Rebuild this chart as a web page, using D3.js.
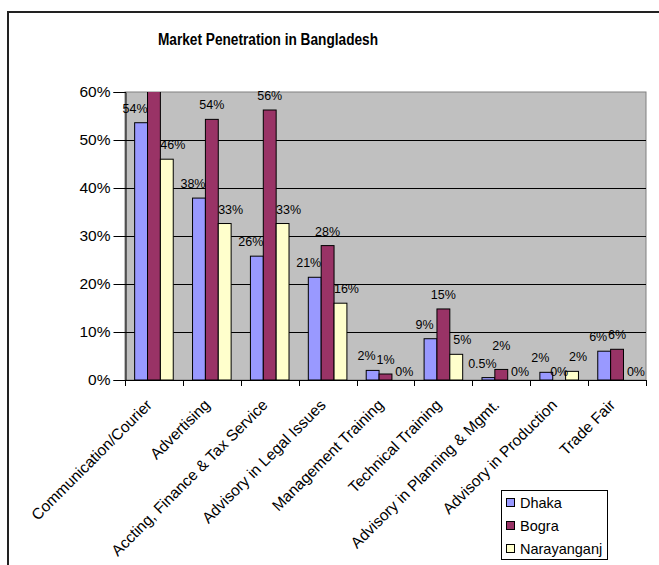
<!DOCTYPE html>
<html>
<head>
<meta charset="utf-8">
<script src="https://cdn.jsdelivr.net/npm/d3@7"></script>
<style>
  html, body { margin: 0; padding: 0; background: #fff; }
  svg { display: block; font-family: "Liberation Sans", Arial, sans-serif; }
</style>
</head>
<body>
<svg id="chart" width="659" height="565"></svg>
<script>
// Service categories along the x axis
const categories = [
  "Communication/Courier",
  "Advertising",
  "Accting, Finance & Tax Service",
  "Advisory in Legal Issues",
  "Management Training",
  "Technical Training",
  "Advisory in Planning & Mgmt.",
  "Advisory in Production",
  "Trade Fair"
];

// Market penetration share per district
const seriesNames = ["Dhaka", "Bogra", "Narayanganj"];
const dhaka       = [0.536, 0.379, 0.258, 0.214, 0.020, 0.086, 0.005, 0.016, 0.060];
const bogra       = [0.640, 0.543, 0.5625, 0.280, 0.0125, 0.148, 0.022, 0.000, 0.064];
const narayanganj = [0.460, 0.326, 0.326, 0.160, 0.000, 0.0535, 0.000, 0.018, 0.000];

const yTicks = [0, 0.1, 0.2, 0.3, 0.4, 0.5, 0.6];
const colors = ["#9999FF", "#993366", "#FFFFCC"];

const series = [dhaka, bogra, narayanganj];

const svg = d3.select("#chart");
const plot = { left: 125, right: 646, top: 92, bottom: 380 };

// Chart frame
svg.append("rect")
  .attr("x", 8).attr("y", 12)
  .attr("width", 700).attr("height", 600)
  .attr("fill", "#fff").attr("stroke", "#222").attr("stroke-width", 2);

// Title
svg.append("text")
  .attr("x", 268).attr("y", 45)
  .attr("text-anchor", "middle")
  .attr("font-size", 16).attr("font-weight", "bold")
  .attr("textLength", 220).attr("lengthAdjust", "spacingAndGlyphs")
  .text("Market Penetration in Bangladesh");

const y = d3.scaleLinear().domain([0, 0.6]).range([plot.bottom, plot.top]);
const x = d3.scaleBand().domain(categories).range([plot.left, plot.right]).paddingInner(0).paddingOuter(0);
const bw = x.bandwidth() / 4.5;
const xs = d3.scaleBand().domain(seriesNames).range([x.bandwidth() * 0.75 / 4.5, x.bandwidth() * 3.75 / 4.5]).padding(0);

// Plot background
svg.append("rect")
  .attr("x", plot.left).attr("y", plot.top)
  .attr("width", plot.right - plot.left).attr("height", plot.bottom - plot.top)
  .attr("fill", "#C0C0C0").attr("stroke", "#808080").attr("stroke-width", 1);

// Gridlines
svg.append("g")
  .selectAll("line")
  .data(yTicks.filter(t => t > 0 && t < 0.6))
  .join("line")
  .attr("x1", plot.left).attr("x2", plot.right)
  .attr("y1", d => Math.round(y(d)) + 0.5).attr("y2", d => Math.round(y(d)) + 0.5)
  .attr("stroke", "#000").attr("stroke-width", 1);

svg.append("clipPath").attr("id", "plotClip")
  .append("rect")
  .attr("x", plot.left).attr("y", plot.top)
  .attr("width", plot.right - plot.left).attr("height", plot.bottom - plot.top);

// Bars
const bars = svg.append("g").attr("clip-path", "url(#plotClip)");
series.forEach((vals, si) => {
  bars.selectAll(null)
    .data(vals.map((v, i) => ({ v, c: categories[i] })))
    .join("rect")
    .attr("x", d => x(d.c) + xs(seriesNames[si]))
    .attr("y", d => y(Math.min(d.v, 0.62)))
    .attr("width", bw)
    .attr("height", d => y(0) - y(Math.min(d.v, 0.62)))
    .attr("fill", colors[si])
    .attr("stroke", "#000").attr("stroke-width", 1);
});

// Value labels (hidden when the bar runs past the top of the axis)
const fmtPct = d3.format(".0%");
const fmtSmall = d3.format(".1%");
const labelFmt = v => (v > 0 && v < 0.01) ? fmtSmall(v) : fmtPct(v);
const labelShift = [-6, 0, 6];
const labels = svg.append("g").attr("font-size", 12.5).attr("fill", "#000");

categories.forEach((c, ci) => {
  let prev = null;
  series.forEach((vals, si) => {
    const v = vals[ci];
    if (v > 0.6) return;
    const t = labels.append("text")
      .attr("text-anchor", "middle")
      .text(labelFmt(v));
    const cx = x(c) + xs(seriesNames[si]) + bw / 2 + labelShift[si];
    let by = v === 0 ? y(0) - 4 : y(v) - 10;
    const w = t.node().getComputedTextLength();
    // lift a label that would collide with its left neighbour
    if (prev && Math.abs(cx - prev.cx) < (w + prev.w) / 2 && Math.abs(by - prev.by) < 12) {
      by = prev.by - 18;
    }
    t.attr("x", cx).attr("y", by);
    prev = { cx, by, w };
  });
});

// Y axis
const yAxis = d3.axisLeft(y).tickValues(yTicks).tickFormat(d3.format(".0%")).tickSize(12).tickPadding(3);
const gy = svg.append("g").attr("transform", `translate(${plot.left + 0.5},0)`).call(yAxis);
gy.select(".domain").attr("stroke", "#000");
gy.selectAll(".tick line").attr("stroke", "#000");
gy.selectAll(".tick text")
  .attr("font-family", "'Liberation Sans', Arial, sans-serif")
  .attr("font-size", 15.5).attr("fill", "#000");

// X axis line and category boundary ticks
svg.append("line")
  .attr("x1", plot.left).attr("x2", plot.right)
  .attr("y1", plot.bottom + 0.5).attr("y2", plot.bottom + 0.5)
  .attr("stroke", "#000");
const bounds = categories.map(c => x(c)).concat([x(categories[categories.length - 1]) + x.bandwidth()]);
svg.append("g").selectAll("line").data(bounds).join("line")
  .attr("x1", d => Math.round(d) + 0.5).attr("x2", d => Math.round(d) + 0.5)
  .attr("y1", plot.bottom).attr("y2", plot.bottom + 6)
  .attr("stroke", "#000");

// Category labels, rotated
svg.append("g").selectAll("text").data(categories).join("text")
  .attr("transform", d => `translate(${x(d) + x.bandwidth() / 2 - 1},${plot.bottom + 26}) rotate(-45)`)
  .attr("text-anchor", "end")
  .attr("font-size", 15.5)
  .text(d => d);

// Legend
const legend = svg.append("g").attr("transform", "translate(501,490)");
legend.append("rect").attr("x", 0.5).attr("y", 0.5).attr("width", 106).attr("height", 69)
  .attr("fill", "#fff").attr("stroke", "#000");
seriesNames.forEach((name, i) => {
  const g = legend.append("g").attr("transform", `translate(0,${13 + i * 23})`);
  g.append("rect").attr("x", 5.5).attr("y", -4.5).attr("width", 8).attr("height", 8)
    .attr("fill", colors[i]).attr("stroke", "#000");
  g.append("text").attr("x", 19).attr("y", 0).attr("dy", "0.35em")
    .attr("font-size", 14.5).text(name);
});
</script>
</body>
</html>
